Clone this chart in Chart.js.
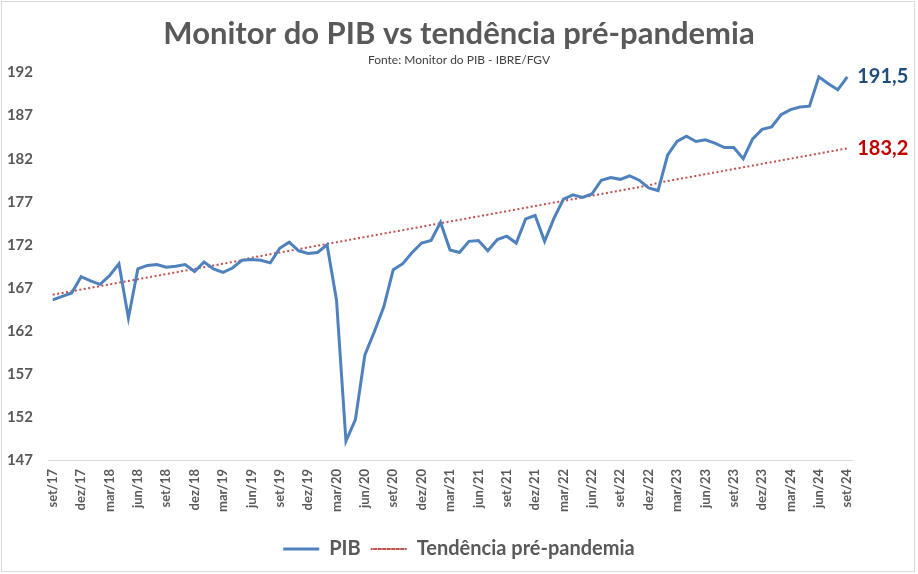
<!DOCTYPE html>
<html>
<head>
<meta charset="utf-8">
<script src="https://cdn.jsdelivr.net/npm/chart.js@4.4.1/dist/chart.umd.min.js"></script>
<style>
  html, body { margin: 0; padding: 0; background: #fff; }
  #wrap { position: relative; width: 918px; height: 574px; }
</style>
</head>
<body>
<div id="wrap"><canvas id="pibChart"></canvas></div>
<script>
// months set/17 .. set/24
const months = [
  'set/17','out/17','nov/17','dez/17',
  'jan/18','fev/18','mar/18','abr/18','mai/18','jun/18','jul/18','ago/18','set/18','out/18','nov/18','dez/18',
  'jan/19','fev/19','mar/19','abr/19','mai/19','jun/19','jul/19','ago/19','set/19','out/19','nov/19','dez/19',
  'jan/20','fev/20','mar/20','abr/20','mai/20','jun/20','jul/20','ago/20','set/20','out/20','nov/20','dez/20',
  'jan/21','fev/21','mar/21','abr/21','mai/21','jun/21','jul/21','ago/21','set/21','out/21','nov/21','dez/21',
  'jan/22','fev/22','mar/22','abr/22','mai/22','jun/22','jul/22','ago/22','set/22','out/22','nov/22','dez/22',
  'jan/23','fev/23','mar/23','abr/23','mai/23','jun/23','jul/23','ago/23','set/23','out/23','nov/23','dez/23',
  'jan/24','fev/24','mar/24','abr/24','mai/24','jun/24','jul/24','ago/24','set/24'
];

const pib = [
  165.6, 166.0, 166.4, 168.3,
  167.8, 167.4, 168.4, 169.8, 163.5, 169.2, 169.6, 169.7, 169.4, 169.5, 169.7, 168.9,
  170.0, 169.2, 168.8, 169.3, 170.2, 170.3, 170.2, 169.9, 171.6, 172.3, 171.3, 171.0,
  171.1, 172.0, 165.6, 149.2, 151.7, 159.2, 161.9, 164.8, 169.1, 169.8, 171.1, 172.2,
  172.5, 174.6, 171.4, 171.1, 172.4, 172.5, 171.3, 172.6, 173.0, 172.2, 175.0, 175.4,
  172.4, 175.1, 177.3, 177.8, 177.5, 177.9, 179.5, 179.8, 179.6, 180.0, 179.5, 178.6,
  178.3, 182.4, 184.0, 184.6, 184.0, 184.2, 183.8, 183.3, 183.3, 182.0, 184.3, 185.4,
  185.7, 187.1, 187.7, 188.0, 188.1, 191.5, 190.7, 190.0, 191.5
];

const tendencia = [
  166.2, 166.4, 166.6, 166.8,
  167.0, 167.2, 167.4, 167.6, 167.8, 168.0, 168.2, 168.4, 168.6, 168.8, 169.0, 169.2,
  169.4, 169.6, 169.8, 170.0, 170.2, 170.5, 170.7, 170.9, 171.1, 171.3, 171.5, 171.7,
  171.9, 172.1, 172.3, 172.5, 172.7, 172.9, 173.1, 173.3, 173.5, 173.7, 173.9, 174.1,
  174.3, 174.5, 174.7, 174.9, 175.1, 175.3, 175.5, 175.7, 175.9, 176.1, 176.3, 176.5,
  176.7, 176.9, 177.1, 177.3, 177.5, 177.7, 177.9, 178.1, 178.3, 178.5, 178.7, 178.9,
  179.2, 179.4, 179.6, 179.8, 180.0, 180.2, 180.4, 180.6, 180.8, 181.0, 181.2, 181.4,
  181.6, 181.8, 182.0, 182.2, 182.4, 182.6, 182.8, 183.0, 183.2
];

const yTicks = [147, 152, 157, 162, 167, 172, 177, 182, 187, 192];

const gray = '#595959';
const fontFamily = 'Lato, "Open Sans", sans-serif';

// border of the chart box + end value labels
const decor = {
  id: 'decor',
  beforeDraw(chart) {
    const c = chart.ctx;
    c.save();
    c.fillStyle = '#fff';
    c.fillRect(0, 0, chart.width, chart.height);
    c.strokeStyle = '#d9d9d9';
    c.lineWidth = 1;
    c.strokeRect(1.5, 1.5, chart.width - 5, chart.height - 4);
    c.restore();
  },
  afterDatasetsDraw(chart) {
    const c = chart.ctx;
    const last = months.length - 1;
    const x = chart.scales.x.getPixelForValue(last);
    const y = chart.scales.y;
    c.save();
    c.font = 'bold 20px ' + fontFamily;
    c.textBaseline = 'middle';
    c.textAlign = 'left';
    c.fillStyle = '#1F4E79';
    c.fillText(pib[last].toFixed(1).replace('.', ','), x + 10, y.getPixelForValue(pib[last]));
    c.fillStyle = '#C00000';
    c.fillText(tendencia[last].toFixed(1).replace('.', ','), x + 10, y.getPixelForValue(tendencia[last]));
    c.restore();
  }
};

new Chart(document.getElementById('pibChart'), {
  type: 'line',
  data: {
    labels: months,
    datasets: [
      {
        label: 'PIB',
        data: pib,
        borderColor: '#4F81BD',
        backgroundColor: '#4F81BD',
        borderWidth: 3,
        pointRadius: 0,
        tension: 0,
        fill: false
      },
      {
        label: 'Tendência pré-pandemia',
        data: tendencia,
        borderColor: '#C0504D',
        backgroundColor: '#C0504D',
        borderWidth: 2,
        borderDash: [2, 2.5],
        pointRadius: 0,
        tension: 0,
        fill: false
      }
    ]
  },
  options: {
    responsive: true,
    maintainAspectRatio: false,
    animation: false,
    layout: { padding: { left: 4, right: 4, top: 5, bottom: 5 } },
    plugins: {
      title: {
        display: true,
        text: 'Monitor do PIB vs tendência pré-pandemia',
        color: gray,
        font: { family: fontFamily, size: 31, weight: 'bold' },
        padding: { top: 10, bottom: 1 }
      },
      subtitle: {
        display: true,
        text: 'Fonte: Monitor do PIB - IBRE/FGV',
        color: '#404040',
        font: { family: fontFamily, size: 12 },
        padding: { bottom: 5 }
      },
      legend: {
        position: 'bottom',
        labels: {
          color: gray,
          font: { family: fontFamily, size: 20, weight: 'bold' },
          boxWidth: 36,
          boxHeight: 0,
          padding: 10
        }
      },
      tooltip: { enabled: false }
    },
    scales: {
      x: {
        offset: true,
        grid: { display: false, drawTicks: false },
        border: { display: true, color: '#d9d9d9' },
        afterFit: (s) => { s.height = 69; },
        ticks: {
          autoSkip: false,
          maxRotation: 90,
          minRotation: 90,
          padding: 9,
          color: gray,
          font: { family: fontFamily, size: 13, weight: 'bold' },
          callback: (v, i) => (i % 3 === 0 ? months[i] : null)
        }
      },
      y: {
        min: 147,
        max: 192,
        afterBuildTicks: (s) => { s.ticks = yTicks.map(v => ({ value: v })); },
        afterFit: (s) => { s.width = 44; },
        grid: { display: false, drawTicks: false },
        border: { display: false },
        ticks: {
          padding: 15,
          color: gray,
          font: { family: fontFamily, size: 15, weight: 'bold' }
        }
      },
      // empty right axis, only reserves room for the end labels
      yRight: {
        position: 'right',
        min: 147,
        max: 192,
        afterFit: (s) => { s.width = 62; },
        grid: { display: false, drawTicks: false },
        border: { display: false },
        ticks: { display: false }
      }
    }
  },
  plugins: [decor]
});
</script>
</body>
</html>
